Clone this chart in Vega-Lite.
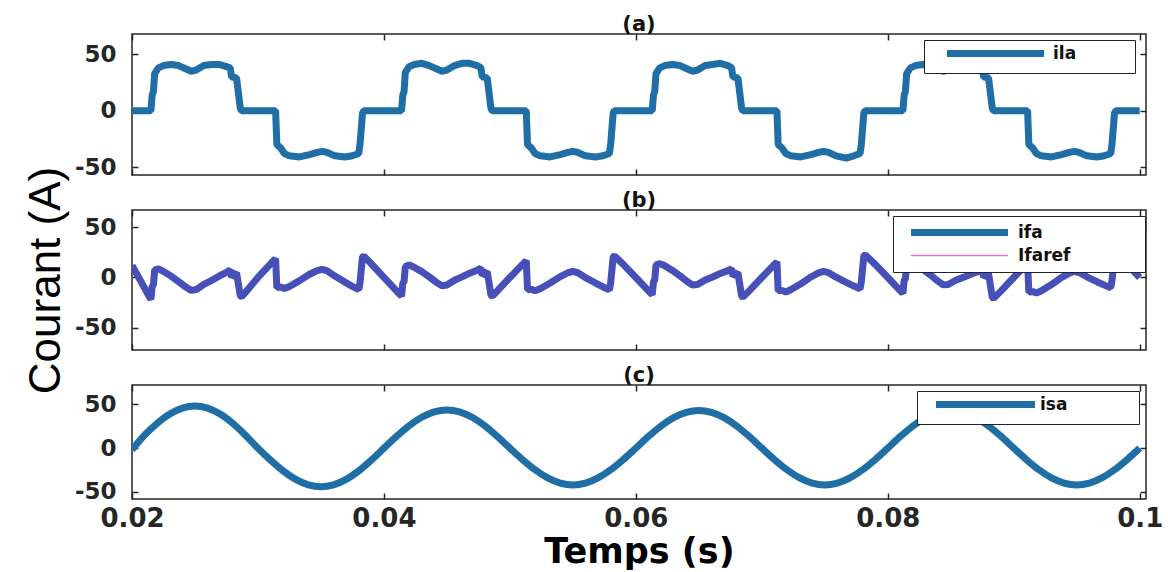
{
  "$schema": "https://vega.github.io/schema/vega-lite/v6.json",
  "background": "white",
  "padding": {"left": 23, "top": 13, "right": 5, "bottom": 0},
  "spacing": 35,
  "bounds": "flush",
  "config": {
    "font": "DejaVu Sans",
    "view": {"stroke": "#262626", "strokeWidth": 1.5},
    "axis": {"grid": false, "domain": false, "ticks": true, "tickSize": -6, "tickColor": "#262626", "tickWidth": 1.5, "labelFont": "DejaVu Sans", "labelFontWeight": "bold", "labelFontSize": 23, "labelColor": "#262626", "labelPadding": 22, "labelFlush": false},
    "title": {"font": "DejaVu Sans", "fontWeight": "bold", "fontSize": 21, "offset": -2, "color": "#111111"},
    "legend": {"titleFontSize": 0}
  },
  "resolve": {"scale": {"color": "independent", "strokeWidth": "independent"}, "legend": {"color": "independent", "strokeWidth": "independent"}},
  "datasets": {
    "ila": [
      {"t":0.02,"v":0},
      {"t":0.0215,"v":0},{"t":0.0216,"v":14},{"t":0.0217,"v":17},{"t":0.0218,"v":33},{"t":0.0221,"v":38},{"t":0.0225,"v":40},{"t":0.0231,"v":41},{"t":0.0237,"v":40},{"t":0.0243,"v":37},{"t":0.0247,"v":35},{"t":0.0251,"v":36},{"t":0.0257,"v":40},{"t":0.0263,"v":41},{"t":0.0269,"v":41},{"t":0.0275,"v":39},{"t":0.0278,"v":38},{"t":0.0279,"v":30},{"t":0.0283,"v":29},{"t":0.0286,"v":2},{"t":0.0287,"v":0},{"t":0.0314,"v":0},{"t":0.0315,"v":-30},{"t":0.0318,"v":-33},{"t":0.0321,"v":-38},{"t":0.0325,"v":-40},{"t":0.0333,"v":-41},{"t":0.0341,"v":-39},{"t":0.0347,"v":-37},{"t":0.0351,"v":-36},{"t":0.0355,"v":-37},{"t":0.0361,"v":-40},{"t":0.0369,"v":-41},{"t":0.0375,"v":-40},{"t":0.038,"v":-38},{"t":0.0381,"v":-30},{"t":0.0383,"v":-2},{"t":0.0384,"v":0},
      {"t":0.0414,"v":0},{"t":0.0415,"v":14},{"t":0.0416,"v":17},{"t":0.0417,"v":34},{"t":0.042,"v":39},{"t":0.0424,"v":41},{"t":0.043,"v":42},{"t":0.0436,"v":40},{"t":0.0442,"v":37},{"t":0.0446,"v":35},{"t":0.045,"v":36},{"t":0.0456,"v":40},{"t":0.0462,"v":42},{"t":0.0468,"v":42},{"t":0.0474,"v":40},{"t":0.0477,"v":38},{"t":0.0478,"v":30},{"t":0.0482,"v":29},{"t":0.0485,"v":2},{"t":0.0486,"v":0},{"t":0.0513,"v":0},{"t":0.0514,"v":-30},{"t":0.0517,"v":-33},{"t":0.052,"v":-38},{"t":0.0524,"v":-40},{"t":0.0532,"v":-41},{"t":0.054,"v":-39},{"t":0.0546,"v":-37},{"t":0.055,"v":-36},{"t":0.0554,"v":-37},{"t":0.056,"v":-40},{"t":0.0568,"v":-41},{"t":0.0574,"v":-40},{"t":0.0579,"v":-38},{"t":0.058,"v":-30},{"t":0.0582,"v":-2},{"t":0.0583,"v":0},
      {"t":0.0613,"v":0},{"t":0.0614,"v":14},{"t":0.0615,"v":17},{"t":0.0616,"v":33},{"t":0.0619,"v":38},{"t":0.0623,"v":40},{"t":0.0629,"v":41},{"t":0.0635,"v":40},{"t":0.0641,"v":37},{"t":0.0645,"v":35},{"t":0.0649,"v":36},{"t":0.0655,"v":40},{"t":0.0661,"v":41},{"t":0.0667,"v":42},{"t":0.0673,"v":40},{"t":0.0676,"v":38},{"t":0.0677,"v":30},{"t":0.0681,"v":29},{"t":0.0684,"v":2},{"t":0.0685,"v":0},{"t":0.0712,"v":0},{"t":0.0713,"v":-30},{"t":0.0716,"v":-33},{"t":0.0719,"v":-38},{"t":0.0723,"v":-40},{"t":0.0731,"v":-41},{"t":0.0739,"v":-39},{"t":0.0745,"v":-37},{"t":0.0749,"v":-36},{"t":0.0753,"v":-37},{"t":0.0759,"v":-40},{"t":0.0767,"v":-42},{"t":0.0773,"v":-40},{"t":0.0778,"v":-38},{"t":0.0779,"v":-30},{"t":0.0781,"v":-2},{"t":0.0782,"v":0},
      {"t":0.0812,"v":0},{"t":0.0813,"v":14},{"t":0.0814,"v":17},{"t":0.0815,"v":33},{"t":0.0818,"v":38},{"t":0.0822,"v":40},{"t":0.0828,"v":41},{"t":0.0834,"v":40},{"t":0.084,"v":37},{"t":0.0844,"v":35},{"t":0.0848,"v":36},{"t":0.0854,"v":40},{"t":0.086,"v":41},{"t":0.0866,"v":41},{"t":0.0872,"v":39},{"t":0.0875,"v":38},{"t":0.0876,"v":30},{"t":0.088,"v":29},{"t":0.0883,"v":2},{"t":0.0884,"v":0},{"t":0.0911,"v":0},{"t":0.0912,"v":-30},{"t":0.0915,"v":-33},{"t":0.0918,"v":-38},{"t":0.0922,"v":-40},{"t":0.093,"v":-41},{"t":0.0938,"v":-39},{"t":0.0944,"v":-37},{"t":0.0948,"v":-36},{"t":0.0952,"v":-37},{"t":0.0958,"v":-40},{"t":0.0966,"v":-41},{"t":0.0972,"v":-40},{"t":0.0977,"v":-38},{"t":0.0978,"v":-30},{"t":0.098,"v":-2},{"t":0.0981,"v":0},
      {"t":0.1,"v":0}
    ],
    "ifa": [
      {"t":0.02,"v":12},
      {"t":0.0215,"v":-21.8},{"t":0.0216,"v":-9},{"t":0.0217,"v":-7.4},{"t":0.0218,"v":7.3},{"t":0.0221,"v":8.6},{"t":0.0225,"v":6.1},{"t":0.0231,"v":1.3},{"t":0.0237,"v":-4.1},{"t":0.0243,"v":-9.8},{"t":0.0247,"v":-12.8},{"t":0.0251,"v":-12},{"t":0.0257,"v":-6.8},{"t":0.0263,"v":-3.1},{"t":0.0269,"v":1.3},{"t":0.0275,"v":5.1},{"t":0.0278,"v":7.4},{"t":0.0279,"v":0.6},{"t":0.0283,"v":4.6},{"t":0.0286,"v":-18.4},{"t":0.0287,"v":-19.1},{"t":0.029,"v":-14.8},{"t":0.03,"v":0},{"t":0.031,"v":13.6},{"t":0.0314,"v":18.7},{"t":0.0315,"v":-10},{"t":0.0318,"v":-9.4},{"t":0.0321,"v":-11},{"t":0.0325,"v":-8.9},{"t":0.0333,"v":-3.1},{"t":0.0341,"v":3.2},{"t":0.0347,"v":6.8},{"t":0.0351,"v":8},{"t":0.0355,"v":6.5},{"t":0.0361,"v":1.4},{"t":0.0369,"v":-4.6},{"t":0.0375,"v":-8.9},{"t":0.038,"v":-12.1},{"t":0.0381,"v":-5.3},{"t":0.0383,"v":20.4},{"t":0.0384,"v":21.2},{"t":0.039,"v":13.6},{"t":0.04,"v":0},{"t":0.041,"v":-13.4},
      {"t":0.0414,"v":-18.5},{"t":0.0415,"v":-5.7},{"t":0.0416,"v":-4},{"t":0.0417,"v":10.9},{"t":0.042,"v":12.4},{"t":0.0424,"v":10.2},{"t":0.043,"v":5.8},{"t":0.0436,"v":0.6},{"t":0.0442,"v":-5.1},{"t":0.0446,"v":-8.2},{"t":0.045,"v":-7.5},{"t":0.0456,"v":-2.7},{"t":0.0462,"v":0.6},{"t":0.0468,"v":4.3},{"t":0.0474,"v":7.3},{"t":0.0477,"v":9.2},{"t":0.0478,"v":2.3},{"t":0.0482,"v":5.7},{"t":0.0485,"v":-17.7},{"t":0.0486,"v":-18.5},{"t":0.049,"v":-13.4},{"t":0.05,"v":0},{"t":0.051,"v":13},{"t":0.0513,"v":16.7},{"t":0.0514,"v":-12.1},{"t":0.0517,"v":-11.6},{"t":0.052,"v":-13.3},{"t":0.0524,"v":-11.2},{"t":0.0532,"v":-5.5},{"t":0.054,"v":0.9},{"t":0.0546,"v":4.7},{"t":0.055,"v":6},{"t":0.0554,"v":4.7},{"t":0.056,"v":-0.1},{"t":0.0568,"v":-5.5},{"t":0.0574,"v":-9.4},{"t":0.0579,"v":-12.3},{"t":0.058,"v":-5.3},{"t":0.0582,"v":20.5},{"t":0.0583,"v":21.4},{"t":0.059,"v":13},{"t":0.06,"v":0},{"t":0.061,"v":-13.3},
      {"t":0.0613,"v":-17.1},{"t":0.0614,"v":-4.3},{"t":0.0615,"v":-2.5},{"t":0.0616,"v":12.3},{"t":0.0619,"v":13.8},{"t":0.0623,"v":11.6},{"t":0.0629,"v":7},{"t":0.0635,"v":1.7},{"t":0.0641,"v":-4.3},{"t":0.0645,"v":-7.5},{"t":0.0649,"v":-7},{"t":0.0655,"v":-2.5},{"t":0.0661,"v":0.5},{"t":0.0667,"v":4},{"t":0.0673,"v":6.8},{"t":0.0676,"v":8.6},{"t":0.0677,"v":1.6},{"t":0.0681,"v":4.8},{"t":0.0684,"v":-18.7},{"t":0.0685,"v":-19.5},{"t":0.069,"v":-13.3},{"t":0.07,"v":0},{"t":0.071,"v":13},{"t":0.0712,"v":15.5},{"t":0.0713,"v":-13.3},{"t":0.0716,"v":-12.8},{"t":0.0719,"v":-14.4},{"t":0.0723,"v":-12.2},{"t":0.0731,"v":-6.3},{"t":0.0739,"v":0.5},{"t":0.0745,"v":4.5},{"t":0.0749,"v":6},{"t":0.0753,"v":4.8},{"t":0.0759,"v":0.3},{"t":0.0767,"v":-4.8},{"t":0.0773,"v":-8.5},{"t":0.0778,"v":-11.2},{"t":0.0779,"v":-4.3},{"t":0.0781,"v":21.6},{"t":0.0782,"v":22.5},{"t":0.079,"v":13},{"t":0.08,"v":0},{"t":0.081,"v":-13.3},
      {"t":0.0812,"v":-15.8},{"t":0.0813,"v":-3.1},{"t":0.0814,"v":-1.3},{"t":0.0815,"v":13.5},{"t":0.0818,"v":15},{"t":0.0822,"v":12.6},{"t":0.0828,"v":7.9},{"t":0.0834,"v":2.3},{"t":0.084,"v":-3.9},{"t":0.0844,"v":-7.2},{"t":0.0848,"v":-6.9},{"t":0.0854,"v":-2.7},{"t":0.086,"v":0.1},{"t":0.0866,"v":3.3},{"t":0.0872,"v":5.9},{"t":0.0875,"v":7.6},{"t":0.0876,"v":0.6},{"t":0.088,"v":3.7},{"t":0.0883,"v":-19.9},{"t":0.0884,"v":-20.7},{"t":0.089,"v":-13.3},{"t":0.09,"v":0},{"t":0.091,"v":13},{"t":0.0911,"v":14.2},{"t":0.0912,"v":-14.5},{"t":0.0915,"v":-13.9},{"t":0.0918,"v":-15.5},{"t":0.0922,"v":-13.2},{"t":0.093,"v":-7},{"t":0.0938,"v":0},{"t":0.0944,"v":4.3},{"t":0.0948,"v":5.9},{"t":0.0952,"v":4.9},{"t":0.0958,"v":0.7},{"t":0.0966,"v":-4.2},{"t":0.0972,"v":-7.6},{"t":0.0977,"v":-10.2},{"t":0.0978,"v":-3.2},{"t":0.098,"v":22.7},{"t":0.0981,"v":23.6},{"t":0.099,"v":13},{"t":0.1,"v":0}
    ],
    "isa": [
      {"t":0.02,"v":-2},{"t":0.021,"v":14.8},{"t":0.022,"v":28.2},{"t":0.023,"v":38.8},{"t":0.024,"v":45.6},{"t":0.025,"v":48},{"t":0.026,"v":45.6},{"t":0.027,"v":38.8},{"t":0.028,"v":28.2},{"t":0.029,"v":14.8},
      {"t":0.03,"v":0},{"t":0.031,"v":-13.6},{"t":0.032,"v":-25.9},{"t":0.033,"v":-35.6},{"t":0.034,"v":-41.8},{"t":0.035,"v":-44},{"t":0.036,"v":-41.8},{"t":0.037,"v":-35.6},{"t":0.038,"v":-25.9},{"t":0.039,"v":-13.6},
      {"t":0.04,"v":0},{"t":0.041,"v":13.4},{"t":0.042,"v":25.6},{"t":0.043,"v":35.2},{"t":0.044,"v":41.4},{"t":0.045,"v":43.5},{"t":0.046,"v":41.4},{"t":0.047,"v":35.2},{"t":0.048,"v":25.6},{"t":0.049,"v":13.4},
      {"t":0.05,"v":0},{"t":0.051,"v":-13},{"t":0.052,"v":-24.7},{"t":0.053,"v":-34},{"t":0.054,"v":-39.9},{"t":0.055,"v":-42},{"t":0.056,"v":-39.9},{"t":0.057,"v":-34},{"t":0.058,"v":-24.7},{"t":0.059,"v":-13},
      {"t":0.06,"v":0},{"t":0.061,"v":13.3},{"t":0.062,"v":25.3},{"t":0.063,"v":34.8},{"t":0.064,"v":40.9},{"t":0.065,"v":43},{"t":0.066,"v":40.9},{"t":0.067,"v":34.8},{"t":0.068,"v":25.3},{"t":0.069,"v":13.3},
      {"t":0.07,"v":0},{"t":0.071,"v":-13},{"t":0.072,"v":-24.7},{"t":0.073,"v":-34},{"t":0.074,"v":-39.9},{"t":0.075,"v":-42},{"t":0.076,"v":-39.9},{"t":0.077,"v":-34},{"t":0.078,"v":-24.7},{"t":0.079,"v":-13},
      {"t":0.08,"v":0},{"t":0.081,"v":13.3},{"t":0.082,"v":25.3},{"t":0.083,"v":34.8},{"t":0.084,"v":40.9},{"t":0.085,"v":43},{"t":0.086,"v":40.9},{"t":0.087,"v":34.8},{"t":0.088,"v":25.3},{"t":0.089,"v":13.3},
      {"t":0.09,"v":0},{"t":0.091,"v":-13},{"t":0.092,"v":-24.7},{"t":0.093,"v":-34},{"t":0.094,"v":-39.9},{"t":0.095,"v":-42},{"t":0.096,"v":-39.9},{"t":0.097,"v":-34},{"t":0.098,"v":-24.7},{"t":0.099,"v":-13},{"t":0.1,"v":0}
    ]
  },
  "vconcat": [
    {
      "width": 1014, "height": 141,
      "title": "(a)",
      "data": {"name": "ila"},
      "layer": [
        {
          "mark": {"type": "line", "strokeWidth": 7, "strokeJoin": "bevel", "clip": true},
          "encoding": {
            "x": {"field": "t", "type": "quantitative", "scale": {"domain": [0.02, 0.1005], "nice": false, "zero": false}, "axis": {"values": [0.02, 0.04, 0.06, 0.08, 0.1], "labels": false, "title": null}},
            "y": {"field": "v", "type": "quantitative", "scale": {"domain": [-57, 68], "nice": false, "zero": false}, "axis": {"values": [-50, 0, 50], "title": "Courant (A)", "titleFont": "Liberation Sans", "titleFontWeight": "normal", "titleFontSize": 44, "titleColor": "#000000", "titlePadding": 6, "titleY": 246, "labelExpr": "'' + datum.value"}},
            "color": {"datum": "ila", "type": "nominal", "scale": {"domain": ["ila"], "range": ["#1f6ea6"]},
              "legend": {"orient": "none", "legendX": 792, "legendY": 6, "title": null, "symbolType": "M-9.7,0H9.7", "symbolSize": 100, "symbolStrokeWidth": 7, "labelFont": "DejaVu Sans", "labelFontWeight": "bold", "labelFontSize": 17, "labelColor": "#111111", "labelOffset": 49, "padding": 5, "symbolOffset": 58, "strokeColor": "#222222", "fillColor": "white", "labelExpr": "datum.label + '\u2800\u2800\u2800\u2800'"}}
          }
        },
        {
          "mark": {"type": "line", "opacity": 0},
          "encoding": {
            "x": {"field": "t", "type": "quantitative", "axis": {"orient": "top", "values": [0.02, 0.04, 0.06, 0.08, 0.1], "labels": false, "title": null}},
            "y": {"field": "v", "type": "quantitative", "axis": {"orient": "right", "values": [-50, 0, 50], "labels": false, "title": null}}
          }
        }
      ],
      "resolve": {"axis": {"x": "independent", "y": "independent"}}
    },
    {
      "width": 1014, "height": 140,
      "title": "(b)",
      "data": {"name": "ifa"},
      "layer": [
        {
          "mark": {"type": "line", "clip": true},
          "encoding": {
            "x": {"field": "t", "type": "quantitative", "scale": {"domain": [0.02, 0.1005], "nice": false, "zero": false}, "axis": {"orient": "top", "values": [0.02, 0.04, 0.06, 0.08, 0.1], "labels": false, "title": null}},
            "y": {"field": "v", "type": "quantitative", "scale": {"domain": [-72, 67], "nice": false, "zero": false}, "axis": {"orient": "right", "values": [-50, 0, 50], "labels": false, "title": null}},
            "color": {"datum": "Ifaref", "type": "nominal", "scale": {"domain": ["ifa", "Ifaref"], "range": ["#1f6ea6", "#e070e0"]},
              "legend": {"orient": "none", "legendX": 761, "legendY": 6, "title": null, "symbolType": "M-9.7,0H9.7", "symbolSize": 100, "labelFont": "DejaVu Sans", "labelFontWeight": "bold", "labelFontSize": 17, "labelColor": "#111111", "labelOffset": 50, "padding": 8, "rowPadding": -3, "symbolOffset": 50, "strokeColor": "#222222", "fillColor": "white", "labelExpr": "datum.label + '\u2800\u2800\u2800\u2800\u2800'"}},
            "strokeWidth": {"datum": "Ifaref", "type": "nominal", "scale": {"domain": ["ifa", "Ifaref"], "range": [7, 1.3]},
              "legend": {"orient": "none", "legendX": 761, "legendY": 6, "title": null, "symbolType": "M-9.7,0H9.7", "symbolSize": 100, "labelFont": "DejaVu Sans", "labelFontWeight": "bold", "labelFontSize": 17, "labelColor": "#111111", "labelOffset": 50, "padding": 8, "rowPadding": -3, "symbolOffset": 50, "strokeColor": "#222222", "fillColor": "white", "labelExpr": "datum.label + '\u2800\u2800\u2800\u2800\u2800'"}}
          }
        },
        {
          "mark": {"type": "line", "strokeWidth": 7, "strokeJoin": "bevel", "stroke": "#4650b8", "clip": true},
          "encoding": {
            "x": {"field": "t", "type": "quantitative", "axis": {"values": [0.02, 0.04, 0.06, 0.08, 0.1], "labels": false, "title": null}},
            "y": {"field": "v", "type": "quantitative", "axis": {"values": [-50, 0, 50], "title": null, "labelExpr": "'' + datum.value"}}
          }
        }
      ],
      "resolve": {"axis": {"x": "independent", "y": "independent"}}
    },
    {
      "width": 1014, "height": 114,
      "title": "(c)",
      "data": {"name": "isa"},
      "layer": [
        {
          "mark": {"type": "line", "strokeWidth": 7, "interpolate": "monotone", "clip": true},
          "encoding": {
            "x": {"field": "t", "type": "quantitative", "scale": {"domain": [0.02, 0.1005], "nice": false, "zero": false}, "axis": {"values": [0.02, 0.04, 0.06, 0.08, 0.1], "format": "~g", "labelFontSize": 26, "labelPadding": 12, "title": "Temps (s)", "titleFont": "DejaVu Sans", "titleFontWeight": "bold", "titleFontSize": 35, "titleColor": "#000000", "titlePadding": 3}},
            "y": {"field": "v", "type": "quantitative", "scale": {"domain": [-58, 72], "nice": false, "zero": false}, "axis": {"values": [-50, 0, 50], "title": null, "labelExpr": "'' + datum.value"}},
            "color": {"datum": "isa", "type": "nominal", "scale": {"domain": ["isa"], "range": ["#1f6ea6"]},
              "legend": {"orient": "none", "legendX": 785, "legendY": 6, "title": null, "symbolType": "M-9.9,0H9.9", "symbolSize": 100, "symbolStrokeWidth": 7, "labelFont": "DejaVu Sans", "labelFontWeight": "bold", "labelFontSize": 17, "labelColor": "#111111", "labelOffset": 46, "padding": 5, "symbolOffset": 55, "strokeColor": "#222222", "fillColor": "white", "labelExpr": "datum.label + '\u2800\u2800\u2800\u2800\u2800'"}}
          }
        },
        {
          "mark": {"type": "line", "opacity": 0},
          "encoding": {
            "x": {"field": "t", "type": "quantitative", "axis": {"orient": "top", "values": [0.02, 0.04, 0.06, 0.08, 0.1], "labels": false, "title": null}},
            "y": {"field": "v", "type": "quantitative", "axis": {"orient": "right", "values": [-50, 0, 50], "labels": false, "title": null}}
          }
        }
      ],
      "resolve": {"axis": {"x": "independent", "y": "independent"}}
    }
  ]
}
